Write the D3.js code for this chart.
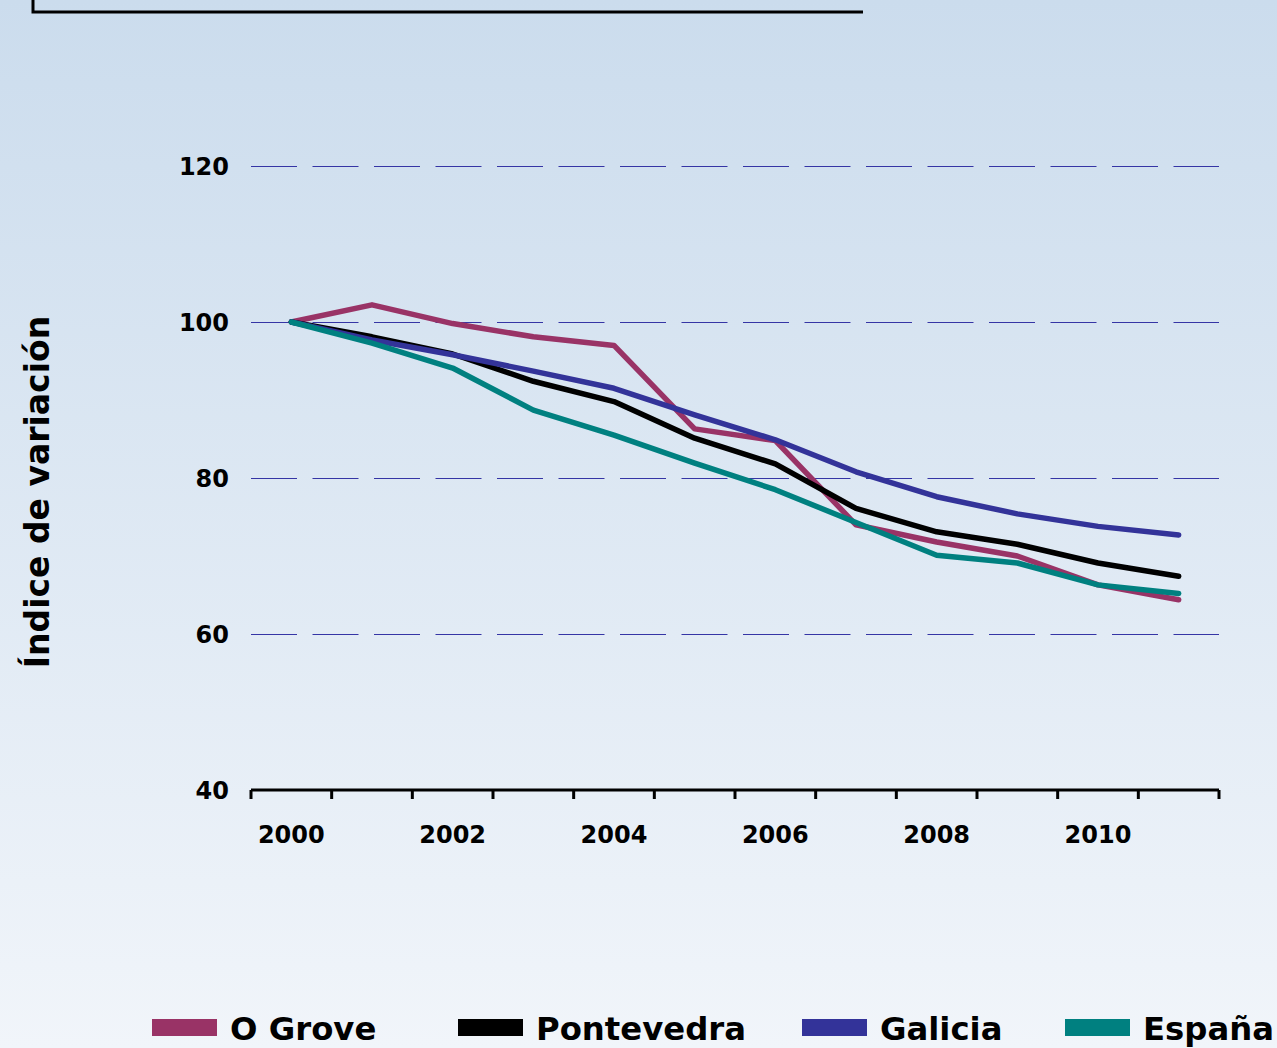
<!DOCTYPE html>
<html><head><meta charset="utf-8">
<script src="https://cdn.jsdelivr.net/npm/d3@7"></script>
<style>body{margin:0;overflow:hidden}svg{display:block}</style>
</head><body>
<svg id="c" width="1277" height="1048"></svg>
<script>
const years = [2000,2001,2002,2003,2004,2005,2006,2007,2008,2009,2010,2011];
const xTickLabels = [2000,2002,2004,2006,2008,2010];
const yTicks = [40,60,80,100,120];
const seriesNames = ["O Grove","Pontevedra","Galicia","España"];
const seriesColors = ["#993366","#000000","#333399","#008080"];
const oGrove     = [100,102.2,99.8,98.1,97.0,86.3,84.8,74.0,71.8,70.0,66.3,64.4];
const pontevedra = [100,98.1,95.9,92.4,89.8,85.1,81.8,76.1,73.1,71.5,69.1,67.4];
const galicia    = [100,97.7,95.8,93.7,91.5,88.1,84.9,80.8,77.6,75.4,73.8,72.7];
const espana     = [100,97.3,94.1,88.7,85.5,81.9,78.5,74.3,70.1,69.1,66.3,65.2];
const seriesValues = [oGrove,pontevedra,galicia,espana];

const svg = d3.select("#c");
const W = 1277, H = 1048;
const defs = svg.append("defs");
const g = defs.append("linearGradient").attr("id","bg").attr("x1",0).attr("y1",0).attr("x2",0).attr("y2",1);
g.append("stop").attr("offset","0%").attr("stop-color","#cbdced");
g.append("stop").attr("offset","100%").attr("stop-color","#f1f5fa");
svg.append("rect").attr("width",W).attr("height",H).attr("fill","url(#bg)");

// title box (cut off at top)
svg.append("path").attr("d","M33,-10V12H863").attr("fill","none").attr("stroke","#000").attr("stroke-width",3);

const x = d3.scaleBand().domain(years).range([251,1219]).padding(0);
const y = d3.scaleLinear().domain([40,120]).range([790,166]);
const font = "'DejaVu Sans', sans-serif";

// gridlines
svg.append("g").selectAll("line").data(yTicks.filter(d=>d>40)).join("line")
  .attr("x1",251).attr("x2",1219).attr("y1",d=>y(d)+0.5).attr("y2",d=>y(d)+0.5)
  .attr("stroke","#3535a5").attr("stroke-width",1).attr("stroke-dasharray","46,15.5");

// y tick labels
svg.append("g").selectAll("text").data(yTicks).join("text")
  .attr("x",229).attr("y",d=>y(d)).attr("dy","0.36em").attr("text-anchor","end")
  .attr("font-family",font).attr("font-weight","bold").attr("font-size",24).attr("fill","#000")
  .text(d=>d);

// x axis
const xa = svg.append("g");
xa.append("line").attr("x1",251).attr("x2",1219).attr("y1",y(40)).attr("y2",y(40))
  .attr("stroke","#000").attr("stroke-width",3);
const bounds = years.map(d=>x(d)).concat([x(years[years.length-1])+x.bandwidth()]);
xa.selectAll("line.t").data(bounds).join("line").attr("class","t")
  .attr("x1",d=>d).attr("x2",d=>d).attr("y1",y(40)).attr("y2",y(40)+9)
  .attr("stroke","#000").attr("stroke-width",3);
xa.selectAll("text").data(xTickLabels).join("text")
  .attr("x",d=>x(d)+x.bandwidth()/2).attr("y",843).attr("text-anchor","middle")
  .attr("font-family",font).attr("font-weight","bold").attr("font-size",24).attr("fill","#000")
  .text(d=>d);

// axis title
svg.append("text").attr("transform","translate(49,492) rotate(-90)").attr("text-anchor","middle")
  .attr("font-family",font).attr("font-weight","bold").attr("font-size",33).attr("fill","#000")
  .text("Índice de variación");

// lines
const line = d3.line().x((d,i)=>x(years[i])+x.bandwidth()/2).y(d=>y(d));
svg.append("g").selectAll("path").data(seriesValues).join("path")
  .attr("d",line).attr("fill","none").attr("stroke",(d,i)=>seriesColors[i])
  .attr("stroke-width",5.5).attr("stroke-linejoin","round").attr("stroke-linecap","round");

// legend
const legX = [152,458,802,1065];
const leg = svg.append("g").selectAll("g").data(seriesNames).join("g")
  .attr("transform",(d,i)=>`translate(${legX[i]},0)`);
leg.append("rect").attr("x",0).attr("y",1019).attr("width",65).attr("height",17).attr("fill",(d,i)=>seriesColors[i]);
leg.append("text").attr("x",78).attr("y",1040)
  .attr("font-family",font).attr("font-weight","bold").attr("font-size",32.3).attr("fill","#000")
  .text(d=>d);
</script>
</body></html>
